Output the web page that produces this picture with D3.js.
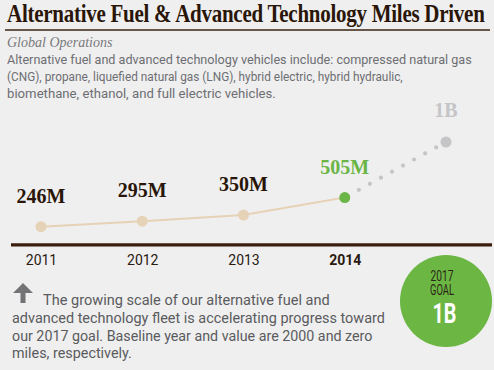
<!DOCTYPE html>
<html>
<head>
<meta charset="utf-8">
<script src="https://cdn.jsdelivr.net/npm/d3@7"></script>
<style>
  body { margin: 0; background: #efeff0; }
  svg { display: block; }
  .sans { font-family: Roboto, "Noto Sans", sans-serif; }
  .serif { font-family: "Liberation Serif", "DejaVu Serif", serif; }
</style>
</head>
<body>
<svg id="chart"></svg>
<script>
// Data
const years = ["2011", "2012", "2013", "2014"];
const miles = [246, 295, 350, 505];          // millions of miles
const milesLabels = ["246M", "295M", "350M", "505M"];
const goalKey = "goal";
const goalValue = 1000;
const goalLabel = "1B";

const title = "Alternative Fuel & Advanced Technology Miles Driven";
const subtitle = "Global Operations";
const descLines = [
  "Alternative fuel and advanced technology vehicles include: compressed natural gas",
  "(CNG), propane, liquefied natural gas (LNG), hybrid electric, hybrid hydraulic,",
  "biomethane, ethanol, and full electric vehicles."
];
const noteLines = [
  "The growing scale of our alternative fuel and",
  "advanced technology fleet is accelerating progress toward",
  "our 2017 goal. Baseline year and value are 2000 and zero",
  "miles, respectively."
];

const width = 494;
const height = 370;

const brown = "#2a1608";
const tan = "#e6d2b6";
const green = "#6ab545";
const grey = "#c5c5c7";

const svg = d3.select("#chart")
  .attr("width", width)
  .attr("height", height);

const data = years.map((y, i) => ({ year: y, value: miles[i], label: milesLabels[i] }));

// Squeeze a text horizontally so it spans the wanted width (condensed face look)
function fit (sel, x, y, w) {
  sel.each(function () {
    const natural = this.getComputedTextLength();
    const sx = w / natural;
    d3.select(this)
      .attr("x", 0).attr("y", 0)
      .attr("transform", `translate(${x}, ${y}) scale(${sx}, 1)`);
  });
}

// Title + rule
svg.append("text")
  .attr("class", "serif")
  .attr("font-size", 24.5)
  .attr("font-weight", "bold")
  .attr("fill", brown)
  .attr("letter-spacing", -0.3)
  .text(title)
  .call(fit, 7, 21.5, 478);

svg.append("line")
  .attr("x1", 5).attr("x2", 490)
  .attr("y1", 30).attr("y2", 30)
  .attr("stroke", "#3b2314")
  .attr("stroke-width", 1.5);

svg.append("text")
  .attr("class", "serif")
  .attr("x", 7)
  .attr("y", 47)
  .attr("font-size", 14)
  .attr("font-style", "italic")
  .attr("fill", "#7a7a7c")
  .text(subtitle);

const descWidths = [465, 396, 269];
svg.append("g")
  .selectAll("text")
  .data(descLines)
  .enter().append("text")
  .attr("class", "sans")
  .attr("font-size", 13.5)
  .attr("fill", "#6d6e71")
  .text((d) => d)
  .each(function (d, i) { d3.select(this).call(fit, 7, 63.5 + i * 17, descWidths[i]); });

// Scales
const x = d3.scalePoint()
  .domain([...years, goalKey])
  .range([41, 446]);

const y = d3.scaleLinear()
  .domain([0, 1000])
  .range([254.3, 142]);

// Baseline axis
const xAxis = d3.axisBottom(x)
  .tickValues(years)
  .tickSize(0)
  .tickPadding(10);

const axis = svg.append("g")
  .attr("transform", `translate(0, ${y(0) - 9.5})`)
  .call(xAxis);
axis.select(".domain").remove();
axis.append("line")
  .attr("x1", 11).attr("x2", 492)
  .attr("stroke", "#3b1d0c")
  .attr("stroke-width", 3.2);
axis.selectAll(".tick text")
  .attr("class", "sans")
  .attr("font-size", 14)
  .attr("fill", "#2a1a10")
  .attr("font-weight", (d) => d === "2014" ? "bold" : "normal");

// Projection dots toward the goal
const last = data[data.length - 1];
svg.append("line")
  .attr("x1", x(last.year)).attr("y1", y(last.value))
  .attr("x2", x(goalKey)).attr("y2", y(goalValue))
  .attr("stroke", grey)
  .attr("stroke-width", 4.2)
  .attr("stroke-linecap", "round")
  .attr("stroke-dasharray", "0 12.6")
  .attr("stroke-dashoffset", -16.1);

// History line
const line = d3.line()
  .x((d) => x(d.year))
  .y((d) => y(d.value));

svg.append("path")
  .datum(data)
  .attr("d", line)
  .attr("fill", "none")
  .attr("stroke", tan)
  .attr("stroke-width", 2);

// Points
svg.append("g")
  .selectAll("circle")
  .data(data)
  .enter().append("circle")
  .attr("cx", (d) => x(d.year))
  .attr("cy", (d) => y(d.value))
  .attr("r", 5.5)
  .attr("fill", (d, i) => i === data.length - 1 ? green : tan);

svg.append("circle")
  .attr("cx", x(goalKey))
  .attr("cy", y(goalValue))
  .attr("r", 5.5)
  .attr("fill", grey);

// Value labels
svg.append("g")
  .selectAll("text")
  .data(data)
  .enter().append("text")
  .attr("class", "serif")
  .attr("x", (d) => x(d.year))
  .attr("y", (d) => y(d.value) - 24)
  .attr("text-anchor", "middle")
  .attr("font-size", 20)
  .attr("font-weight", "bold")
  .attr("fill", (d, i) => i === data.length - 1 ? green : brown)
  .text((d) => d.label);

svg.append("text")
  .attr("class", "serif")
  .attr("x", x(goalKey))
  .attr("y", y(goalValue) - 25)
  .attr("text-anchor", "middle")
  .attr("font-size", 20)
  .attr("font-weight", "bold")
  .attr("fill", grey)
  .text(goalLabel);

// Up arrow
svg.append("path")
  .attr("d", "M23,283 L33,293 L25.5,293 L25.5,303 L20.5,303 L20.5,293 L13,293 Z")
  .attr("fill", "#737375");

// Note paragraph
const noteX = [43, 12, 12, 12];
const noteWidths = [287, 373, 361, 120];
svg.append("g")
  .selectAll("text")
  .data(noteLines)
  .enter().append("text")
  .attr("class", "sans")
  .attr("font-size", 15)
  .attr("fill", "#5a5b5d")
  .text((d) => d)
  .each(function (d, i) { d3.select(this).call(fit, noteX[i], 305 + i * 17.8, noteWidths[i]); });

// Goal badge
const badge = svg.append("g")
  .attr("transform", "translate(446, 301)");
badge.append("circle")
  .attr("r", 46)
  .attr("fill", "#6cb744");
badge.append("text")
  .attr("class", "sans")
  .attr("text-anchor", "middle")
  .attr("font-size", 14.5)
  .attr("fill", "#2b2616")
  .text("2017")
  .call(fit, -4, -20.5, 23);
badge.append("text")
  .attr("class", "sans")
  .attr("text-anchor", "middle")
  .attr("font-size", 14.5)
  .attr("fill", "#2b2616")
  .text("GOAL")
  .call(fit, -4, -6.5, 24);
badge.append("text")
  .attr("class", "sans")
  .attr("text-anchor", "middle")
  .attr("font-size", 27)
  .attr("font-weight", "bold")
  .attr("fill", "#ffffff")
  .text(goalLabel)
  .call(fit, -1.5, 22, 24);
</script>
</body>
</html>
